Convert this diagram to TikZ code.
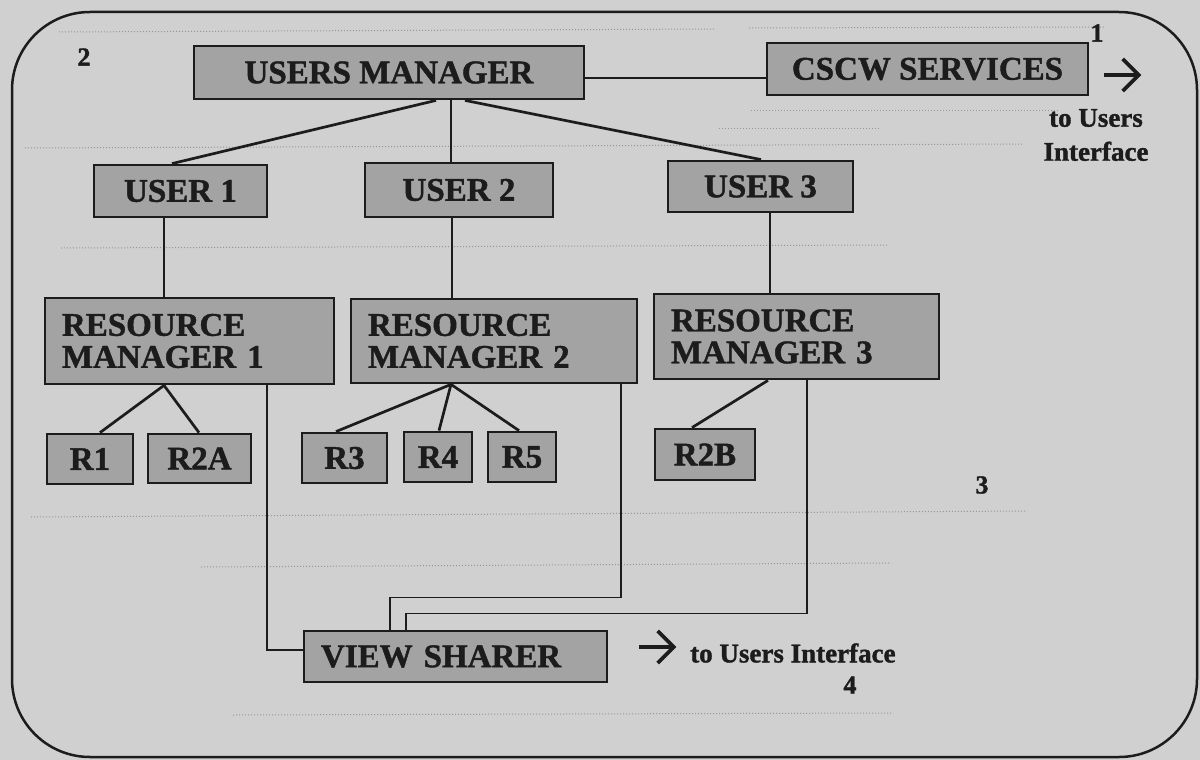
\documentclass[tikz,border=0pt]{standalone}
\usepackage{fontspec}
\setmainfont{Liberation Serif}[BoldFeatures={FakeBold=1.3}]
\usetikzlibrary{arrows.meta}
\definecolor{bg}{RGB}{208,208,208}
\definecolor{boxfill}{RGB}{163,163,163}
\definecolor{ink}{RGB}{28,28,28}
\definecolor{rulecol}{RGB}{150,150,150}
\begin{document}
\begin{tikzpicture}[x=1pt,y=-1pt,
  box/.style={draw=ink,line width=2.8pt,fill=boxfill,inner sep=0pt,text=ink,
    font=\bfseries\fontsize{33}{32}\selectfont},
  lbox/.style={box,align=left,inner xsep=17pt},
  link/.style={draw=ink,line width=1.7pt},
  diag/.style={draw=ink,line width=2.7pt},
  outarrow/.style={draw=ink,line width=3.8pt,-{Straight Barb[length=16pt,width=32pt]}},
  lbl/.style={text=ink,font=\bfseries\fontsize{27}{34}\selectfont,inner sep=0pt},
  num/.style={text=ink,font=\bfseries\fontsize{26}{26}\selectfont,inner sep=0pt},
  guide/.style={draw=rulecol,line width=1pt,dotted}]

\useasboundingbox (0,0) rectangle (1200,760);
\fill[bg] (0,0) rectangle (1200,760);

% faint ruled lines of the scanned page
\draw[guide] (59,32) -- (715,29);
\draw[guide] (749,28) -- (1105,27);
\draw[guide] (751,110) -- (1059,110);
\draw[guide] (719,128) -- (881,128);
\draw[guide] (25,148) -- (1023,144);
\draw[guide] (61,248) -- (889,245);
\draw[guide] (31,517) -- (1027,511);
\draw[guide] (201,567) -- (891,563);
\draw[guide] (233,715) -- (893,713);

% outer frame
\draw[ink,line width=2.5pt,rounded corners=78pt] (12,12) rectangle (1197,757);

% boxes
\node[box,minimum width=390pt,minimum height=53pt] (um) at (389,72.5) {USERS MANAGER};
\node[box,minimum width=321pt,minimum height=52pt] (cscw) at (927.5,69) {CSCW SERVICES};
\node[box,minimum width=173pt,minimum height=52pt] (u1) at (180.5,191) {USER 1};
\node[box,minimum width=188pt,minimum height=54pt] (u2) at (459,190) {USER 2};
\node[box,minimum width=185pt,minimum height=51pt] (u3) at (760.5,186.5) {USER 3};
\node[lbox,text width=255pt,minimum height=86pt] (rm1) at (189.5,341) {RESOURCE\\MANAGER 1};
\node[lbox,text width=252pt,minimum height=84pt] (rm2) at (494,341) {RESOURCE\\MANAGER 2};
\node[lbox,text width=251pt,minimum height=85pt] (rm3) at (796.5,336.5) {RESOURCE\\MANAGER 3};
\node[box,minimum width=86pt,minimum height=50pt] (r1) at (90,459) {R1};
\node[box,minimum width=103pt,minimum height=49pt] (r2a) at (199.5,458.5) {R2A};
\node[box,minimum width=85pt,minimum height=50pt] (r3) at (344.5,458) {R3};
\node[box,minimum width=68pt,minimum height=50pt] (r4) at (438,457) {R4};
\node[box,minimum width=68pt,minimum height=50pt] (r5) at (522,457) {R5};
\node[box,minimum width=100pt,minimum height=51pt] (r2b) at (705,454.5) {R2B};
\node[lbox,text width=269pt,minimum height=51pt] (vs) at (455.5,656.5) {VIEW SHARER};

% connectors
\draw[diag] ([yshift=-5.5pt]um.east) -- ([yshift=-9pt]cscw.west);
\draw[diag] ([xshift=47pt]um.south) -- ([xshift=-8.5pt]u1.north);
\draw[link] ([xshift=62pt]um.south) -- ([xshift=-8pt]u2.north);
\draw[diag] ([xshift=76pt]um.south) -- ([xshift=0.5pt]u3.north);
\draw[link] ([xshift=-16.5pt]u1.south) -- ([xshift=-25.5pt]rm1.north);
\draw[link] ([xshift=-7pt]u2.south) -- ([xshift=-42pt]rm2.north);
\draw[link] ([xshift=9.5pt]u3.south) -- ([xshift=-26.5pt]rm3.north);
\draw[diag] ([xshift=-25.5pt]rm1.south) -- ([xshift=10pt]r1.north);
\draw[diag] ([xshift=-25.5pt]rm1.south) -- ([xshift=-0.5pt]r2a.north);
\draw[diag] ([xshift=-43pt]rm2.south) -- ([xshift=-8.5pt]r3.north);
\draw[diag] ([xshift=-43pt]rm2.south) -- ([xshift=1pt]r4.north);
\draw[diag] ([xshift=-43pt]rm2.south) -- ([xshift=-3pt]r5.north);
\draw[diag] ([xshift=-28.5pt]rm3.south) -- ([xshift=-13pt]r2b.north);
\draw[link] ([xshift=77.5pt]rm1.south) |- ([yshift=6.5pt]vs.west);
\draw[link] ([xshift=127pt]rm2.south) -- ++(0,213) -| ([xshift=-65.5pt]vs.north);
\draw[link] ([xshift=10.5pt]rm3.south) -- ++(0,233) -| ([xshift=-49.5pt]vs.north);

% outputs
\draw[outarrow] ([xshift=15pt,yshift=-6pt]cscw.east) -- ++(37,0);
\draw[outarrow] ([xshift=31pt,yshift=9.5pt]vs.east) -- ++(37,0);
\node[lbl,align=center] (cscwlbl) at (1096,135) {to Users\\Interface};
\node[lbl,anchor=west] (vslbl) at (690,653) {to Users Interface};

% region numbers
\node[num] (n1) at (1097,33) {1};
\node[num] (n2) at (84,57) {2};
\node[num] (n3) at (982,485) {3};
\node[num] (n4) at (850,685) {4};
\end{tikzpicture}
\end{document}
